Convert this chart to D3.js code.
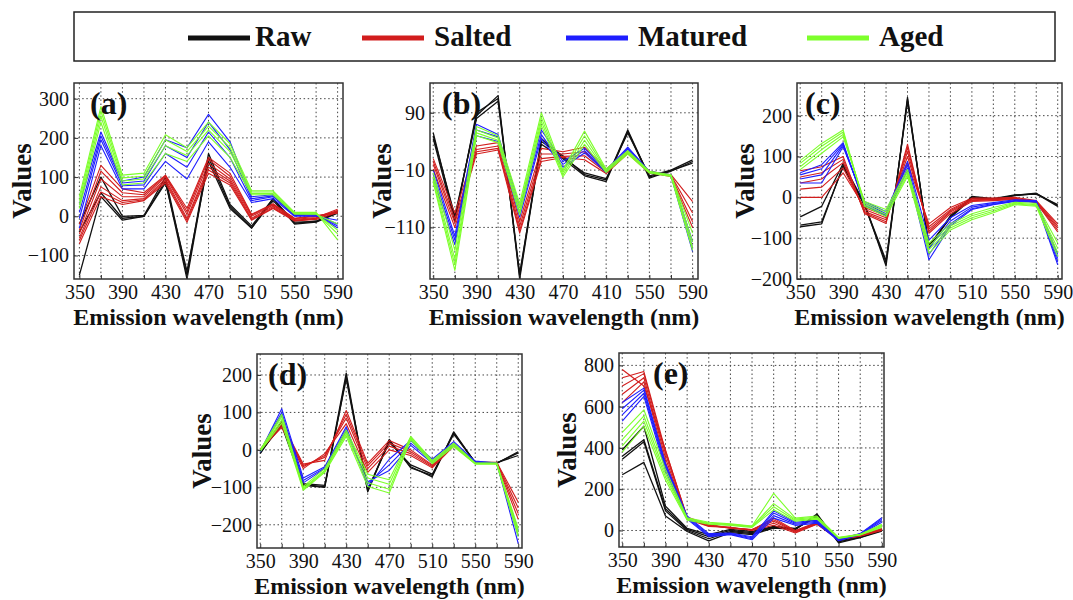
<!DOCTYPE html>
<html>
<head>
<meta charset="utf-8">
<script src="https://cdn.jsdelivr.net/npm/d3@7/dist/d3.min.js"></script>
<style>
  body { margin: 0; background: #fff; }
  svg text { font-family: "Liberation Serif", "DejaVu Serif", serif !important; fill: #111; }
</style>
</head>
<body>
<svg width="1073" height="600"></svg>
<script>
// emission wavelengths (nm)
const wavelengths = [350, 370, 390, 410, 430, 450, 470, 490, 510, 530, 550, 570, 590];
const groups = ['Raw', 'Salted', 'Matured', 'Aged'];
const groupColors = ['#111111', '#d21d1d', '#1e1eff', '#7dff2b'];

// (a)
const aRaw = [
  [-150, 50, -10, 0, 90, -160, 150, 25, -30, 45, -20, -15, 8],
  [-20, 100, 0, 2, 100, -150, 160, 30, -25, 45, -15, -14, 10],
  [-40, 60, -5, 0, 85, -140, 140, 20, -30, 40, -18, -12, 12]
];
const aSalted = [
  [-70, 50, 30, 40, 85, -15, 110, 80, -10, 20, -12, -8, 10],
  [-62, 62, 35, 42, 90, -10, 118, 85, -8, 22, -11, -6, 14],
  [-55, 75, 40, 45, 95, -5, 125, 90, -5, 25, -10, -5, 15],
  [-45, 95, 50, 50, 100, 5, 135, 95, 0, 28, -8, -3, 18],
  [-35, 115, 60, 55, 103, 12, 145, 102, 3, 30, -6, 0, 12],
  [-20, 130, 70, 60, 105, 20, 150, 110, 5, 32, -5, 2, 8]
];
const aMatured = [
  [-30, 180, 70, 70, 140, 95, 190, 125, 35, 45, 0, 0, -10],
  [-5, 195, 78, 80, 160, 125, 215, 150, 40, 50, 2, 3, -20],
  [10, 205, 85, 90, 180, 150, 240, 170, 45, 52, 3, 4, -25],
  [30, 215, 90, 100, 195, 175, 260, 190, 50, 55, 5, 5, -30]
];
const aAged = [
  [20, 240, 80, 85, 160, 140, 205, 150, 55, 55, 5, 5, -20],
  [30, 255, 90, 95, 180, 155, 220, 165, 58, 58, 7, 6, -35],
  [40, 268, 98, 102, 195, 165, 230, 175, 62, 62, 8, 8, -45],
  [50, 280, 105, 110, 208, 175, 240, 185, 65, 65, 10, 10, -60]
];

// (b)
const bRaw = [
  [55, -95, 85, 120, -200, 40, 15, -18, -27, 60, -22, -12, 5],
  [45, -100, 90, 115, -195, 45, 12, -15, -25, 55, -20, -10, 8],
  [50, -90, 80, 110, -190, 35, 10, -20, -30, 58, -24, -11, 2]
];
const bSalted = [
  [10, -85, 32, 38, -100, 28, 22, 30, -8, 22, -12, -18, -65],
  [5, -95, 26, 32, -108, 18, 18, 22, -12, 22, -13, -19, -85],
  [0, -102, 22, 28, -115, 10, 14, 15, -14, 20, -14, -20, -100],
  [-8, -110, 18, 25, -120, 5, 12, 8, -16, 19, -15, -21, -110]
];
const bMatured = [
  [-10, -125, 70, 52, -75, 60, 5, 28, -10, 30, -12, -18, -135],
  [-18, -132, 60, 48, -85, 52, 0, 24, -12, 28, -13, -19, -145],
  [-25, -140, 50, 40, -92, 45, -5, 20, -14, 26, -14, -20, -152]
];
const bAged = [
  [-15, -150, 66, 50, -68, 90, -10, 58, -8, 24, -12, -18, -120],
  [-22, -165, 60, 46, -75, 82, -14, 50, -10, 22, -13, -19, -135],
  [-28, -175, 55, 42, -82, 75, -18, 42, -12, 20, -14, -20, -145],
  [-32, -185, 50, 38, -88, 68, -22, 35, -14, 18, -15, -21, -150]
];

// (c)
const cRaw = [
  [-48, -22, 83, -15, -168, 245, -125, -45, 0, -5, 5, 10, -20],
  [-68, -60, 75, -20, -160, 240, -120, -48, 2, -3, 6, 8, -18],
  [-72, -65, 78, -18, -155, 235, -118, -50, -2, -6, 4, 9, -22]
];
const cSalted = [
  [0, 0, 60, -25, -45, 85, -65, -25, -2, -2, 0, -8, -65],
  [20, 25, 72, -30, -50, 100, -72, -30, -4, -4, -2, -10, -70],
  [35, 45, 85, -35, -55, 112, -78, -33, -6, -5, -3, -11, -75],
  [50, 60, 93, -38, -60, 122, -83, -36, -8, -6, -4, -12, -80],
  [65, 75, 100, -40, -64, 130, -88, -40, -10, -8, -5, -13, -85]
];
const cMatured = [
  [35, 35, 124, -10, -35, 88, -105, -50, -20, -13, -6, -8, -140],
  [45, 55, 128, -14, -40, 80, -125, -58, -24, -15, -8, -10, -150],
  [55, 70, 131, -18, -44, 72, -140, -65, -28, -17, -9, -11, -158],
  [60, 80, 134, -20, -46, 66, -153, -70, -30, -18, -10, -12, -165]
];
const cAged = [
  [68, 108, 148, -10, -30, 68, -112, -65, -40, -25, -12, -15, -112],
  [75, 117, 154, -14, -36, 62, -120, -70, -45, -30, -14, -18, -125],
  [83, 125, 160, -18, -42, 56, -128, -75, -50, -34, -16, -20, -135],
  [90, 132, 165, -22, -47, 51, -137, -80, -55, -38, -18, -22, -145]
];

// (d)
const dRaw = [
  [-8, 70, -93, -98, 205, -112, 25, -45, -72, 48, -35, -35, -8],
  [-5, 65, -95, -100, 195, -105, 20, -40, -65, 42, -33, -34, -15],
  [-10, 75, -90, -95, 190, -110, 28, -48, -68, 45, -34, -36, -5]
];
const dSalted = [
  [0, 60, -50, -10, 70, -60, 0, -15, -48, 10, -36, -36, -185],
  [0, 65, -45, -15, 85, -50, 10, -10, -45, 12, -35, -35, -170],
  [-2, 70, -42, -20, 95, -42, 18, -5, -42, 14, -34, -34, -155],
  [2, 72, -38, -28, 105, -36, 25, 0, -40, 15, -33, -33, -140]
];
const dMatured = [
  [-5, 110, -75, -45, 62, -98, -25, 25, -25, 22, -30, -35, -250],
  [-3, 100, -82, -48, 55, -90, -40, 18, -30, 18, -32, -36, -230],
  [-6, 95, -88, -50, 50, -85, -55, 12, -35, 15, -33, -37, -215]
];
const dAged = [
  [0, 95, -98, -50, 53, -65, -80, 36, -28, 18, -35, -35, -210],
  [-2, 88, -102, -55, 47, -75, -92, 33, -31, 15, -36, -36, -218],
  [-3, 80, -105, -58, 42, -88, -105, 30, -34, 12, -37, -37, -225],
  [-4, 72, -108, -60, 36, -98, -115, 27, -37, 9, -38, -38, -232]
];

// (e)
const eRaw = [
  [270, 330, 70, -5, -50, -10, -20, 12, 5, 80, -60, -35, -3],
  [345, 430, 95, 0, -40, -5, -15, 15, 5, 75, -55, -33, 0],
  [360, 440, 105, 5, -30, 0, -10, 18, 8, 70, -50, -30, 3],
  [390, 505, 118, 10, -20, 5, -5, 20, 10, 65, -45, -28, 5]
];
const eSalted = [
  [620, 720, 330, 55, 20, 15, 0, 25, -12, 30, -45, -28, 0],
  [660, 740, 350, 58, 22, 15, 2, 35, -8, 32, -44, -27, 2],
  [700, 760, 370, 62, 25, 12, 5, 45, -5, 35, -42, -26, 5],
  [740, 770, 385, 65, 28, 10, 5, 52, -2, 38, -40, -25, 8],
  [780, 700, 390, 60, 30, 12, 3, 60, 0, 40, -40, -25, 10]
];
const eMatured = [
  [530, 650, 290, 55, -30, -20, -45, 60, 25, 35, -50, -20, 40],
  [560, 665, 305, 60, -25, -18, -40, 72, 30, 40, -48, -18, 48],
  [590, 680, 315, 65, -20, -15, -35, 85, 35, 45, -45, -16, 55],
  [620, 690, 325, 70, -15, -12, -30, 95, 40, 50, -42, -15, 62]
];
const eAged = [
  [380, 505, 245, 50, 30, 25, 15, 100, 45, 55, -38, -22, 15],
  [410, 530, 260, 55, 33, 28, 18, 115, 50, 60, -36, -20, 20],
  [440, 555, 275, 58, 36, 30, 20, 130, 55, 65, -35, -19, 25],
  [475, 585, 295, 62, 40, 32, 22, 180, 60, 70, -33, -18, 30]
];

const xLabels = ['350', '390', '430', '470', '510', '550', '590'];
const xLabelsB = ['350', '390', '430', '470', '410', '550', '590'];

const panels = [
  { letter: '(a)', series: [aRaw, aSalted, aMatured, aAged], box: [74, 343, 83, 279],
    xDom: [345, 595], yDom: [-160, 340], yTicks: [300, 200, 100, 0, -100], xLabels: xLabels, letterDx: 16, ylabX: 22 },
  { letter: '(b)', series: [bRaw, bSalted, bMatured, bAged], box: [430, 698, 83, 279],
    xDom: [347, 595], yDom: [-200, 142], yTicks: [90, -10, -110], xLabels: xLabelsB, letterDx: 12, ylabX: 382 },
  { letter: '(c)', series: [cRaw, cSalted, cMatured, cAged], box: [797, 1062, 83, 279],
    xDom: [347, 594], yDom: [-200, 280], yTicks: [200, 100, 0, -100, -200], xLabels: xLabels, letterDx: 8, ylabX: 745 },
  { letter: '(d)', series: [dRaw, dSalted, dMatured, dAged], box: [257, 522, 354, 548],
    xDom: [347, 593.5], yDom: [-262, 256], yTicks: [200, 100, 0, -100, -200], xLabels: xLabels, letterDx: 11, ylabX: 202 },
  { letter: '(e)', series: [eRaw, eSalted, eMatured, eAged], box: [619, 884, 353, 547],
    xDom: [347, 592], yDom: [-80, 860], yTicks: [800, 600, 400, 200, 0], xLabels: xLabels, letterDx: 34, ylabX: 567 }
];

const serif = '"Liberation Serif", "DejaVu Serif", serif';
const svg = d3.select('svg').attr('font-family', serif);

// legend
const legend = svg.append('g');
legend.append('rect')
    .attr('x', 74).attr('y', 12)
    .attr('width', 981).attr('height', 49)
    .attr('fill', '#fff').attr('stroke', '#222').attr('stroke-width', 1.5);

const legendX = [188, 362, 566, 807];
groups.forEach((name, i) => {
  legend.append('line')
      .attr('x1', legendX[i]).attr('x2', legendX[i] + 62)
      .attr('y1', 38).attr('y2', 38)
      .attr('stroke', groupColors[i]).attr('stroke-width', 5);
  legend.append('text')
      .attr('x', legendX[i] + 67 + (i === 0 ? 0 : 5)).attr('y', 46)
      .style('font-family', serif)
      .attr('font-size', 29).attr('font-weight', 'bold')
      .text(name);
});

panels.forEach((p, pi) => {
  const [x0, x1, y0, y1] = p.box;
  const x = d3.scaleLinear().domain(p.xDom).range([x0, x1]);
  const y = d3.scaleLinear().domain(p.yDom).range([y1, y0]);
  const g = svg.append('g');

  g.append('clipPath').attr('id', 'clip' + pi)
    .append('rect').attr('x', x0).attr('y', y0).attr('width', x1 - x0).attr('height', y1 - y0);

  // dotted grid
  g.selectAll('.vgrid').data(wavelengths).join('line')
      .attr('x1', d => x(d)).attr('x2', d => x(d))
      .attr('y1', y0).attr('y2', y1)
      .attr('stroke', '#444').attr('stroke-width', 1).attr('stroke-dasharray', '1.5,2.6');
  g.selectAll('.hgrid').data(p.yTicks).join('line')
      .attr('x1', x0).attr('x2', x1)
      .attr('y1', d => y(d)).attr('y2', d => y(d))
      .attr('stroke', '#444').attr('stroke-width', 1).attr('stroke-dasharray', '1.5,2.6');

  const line = d3.line()
      .x((d, i) => x(wavelengths[i]))
      .y(d => y(d));

  const lines = g.append('g').attr('clip-path', `url(#clip${pi})`);
  p.series.forEach((set, gi) => {
    lines.selectAll(null).data(set).join('path')
        .attr('d', line)
        .attr('fill', 'none')
        .attr('stroke', groupColors[gi])
        .attr('stroke-width', gi === 0 ? 1.3 : 1.1)
        .attr('stroke-linejoin', 'round');
  });

  // frame
  g.append('rect')
      .attr('x', x0).attr('y', y0).attr('width', x1 - x0).attr('height', y1 - y0)
      .attr('fill', 'none').attr('stroke', '#333').attr('stroke-width', 1.5);

  // x axis
  const xAxis = d3.axisBottom(x)
      .tickValues(wavelengths)
      .tickSize(-4)
      .tickFormat((d, i) => i % 2 === 0 ? p.xLabels[i / 2] : '');
  const xg = g.append('g').attr('transform', `translate(0,${y1})`).call(xAxis)
      .attr('font-family', serif);
  xg.select('.domain').remove();
  xg.selectAll('.tick line').attr('stroke', '#333');
  xg.selectAll('.tick text').attr('font-size', 20).attr('dy', '0.85em')
      .attr('fill', '#111').style('font-family', serif);

  // y axis
  const yAxis = d3.axisLeft(y).tickValues(p.yTicks).tickSize(-4);
  const yg = g.append('g').attr('transform', `translate(${x0},0)`).call(yAxis)
      .attr('font-family', serif);
  yg.select('.domain').remove();
  yg.selectAll('.tick line').attr('stroke', '#333');
  yg.selectAll('.tick text').attr('font-size', 20).attr('x', -5)
      .attr('fill', '#111').style('font-family', serif);

  // titles
  g.append('text')
      .attr('x', (x0 + x1) / 2).attr('y', y1 + 46)
      .attr('text-anchor', 'middle')
      .style('font-family', serif)
      .attr('font-size', 24).attr('font-weight', 'bold')
      .text('Emission wavelength (nm)');
  g.append('text')
      .attr('transform', `translate(${p.ylabX + 9},${(y0 + y1) / 2}) rotate(-90)`)
      .attr('text-anchor', 'middle')
      .style('font-family', serif)
      .attr('font-size', 27).attr('font-weight', 'bold')
      .text('Values');
  g.append('text')
      .attr('x', x0 + p.letterDx).attr('y', y0 + 31)
      .style('font-family', serif)
      .attr('font-size', 32).attr('font-weight', 'bold')
      .text(p.letter);
});
</script>
</body>
</html>
